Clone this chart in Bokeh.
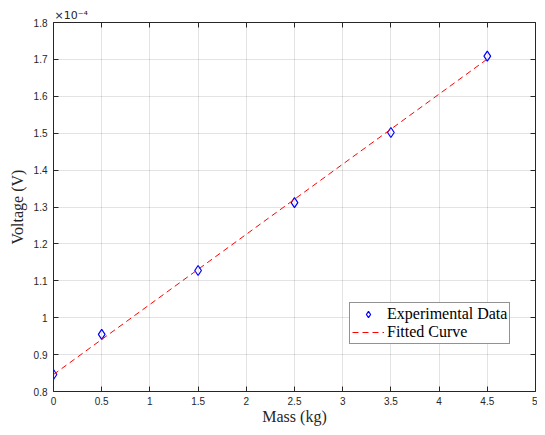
from bokeh.plotting import figure
from bokeh.models import (Range1d, FixedTicker, CustomJSTickFormatter, LinearAxis,
                          Legend, LegendItem)
from bokeh.embed import file_html
from bokeh.resources import INLINE

# ---- data (voltage in units of 1e-4 V, as on the axis) ----
mass_kg = [0.0, 0.5, 1.5, 2.5, 3.5, 4.5]
voltage_e4 = [0.846, 0.955, 1.128, 1.312, 1.502, 1.709]
fit_mass_kg = [0.0, 4.5]
fit_voltage_e4 = [0.846, 1.701]
x_ticks = [0, 0.5, 1, 1.5, 2, 2.5, 3, 3.5, 4, 4.5, 5]
y_ticks = [0.8, 0.9, 1.0, 1.1, 1.2, 1.3, 1.4, 1.5, 1.6, 1.7, 1.8]

AX = "#262626"

p = figure(width=537, height=427, x_range=Range1d(0, 5), y_range=Range1d(0.8, 1.8),
           output_backend="svg", toolbar_location=None,
           min_border_left=53, min_border_right=2, min_border_top=22, min_border_bottom=34,
           x_axis_label="Mass (kg)", y_axis_label="Voltage (V)")
p.outline_line_color = None
p.background_fill_color = "white"
p.border_fill_color = "white"

p.title.text = "×10⁻⁴"
p.title.text_font = "DejaVu Sans"
p.title.text_font_size = "11px"
p.title.text_font_style = "normal"
p.title.text_color = AX
p.title.align = "left"
p.title.offset = 1
p.title.standoff = 2

fmt = CustomJSTickFormatter(code="return (Math.round(tick*100)/100).toString();")

def style_axis(ax, ticks, show_labels=True):
    ax.ticker = FixedTicker(ticks=ticks)
    ax.axis_line_color = AX
    ax.axis_line_width = 1
    ax.major_tick_line_color = AX
    ax.major_tick_in = 5
    ax.major_tick_out = 0
    ax.minor_tick_line_color = None
    if show_labels:
        ax.formatter = fmt
        ax.major_label_text_font = "Liberation Sans"
        ax.major_label_text_font_size = "10px"
        ax.major_label_text_color = AX
        ax.major_label_standoff = 6
        ax.axis_label_text_font = "Liberation Serif"
        ax.axis_label_text_font_size = "16px"
        ax.axis_label_text_font_style = "normal"
        ax.axis_label_text_color = AX
        ax.axis_label_standoff = 3
    else:
        ax.formatter = CustomJSTickFormatter(code="return '';")
        ax.major_label_text_font_size = "0px"
        ax.major_label_standoff = 0

style_axis(p.xaxis[0], x_ticks)
style_axis(p.yaxis[0], y_ticks)
p.xaxis[0].major_label_standoff = 5
p.xaxis[0].axis_label_standoff = 0
p.yaxis[0].axis_label_standoff = 5

top = LinearAxis()
style_axis(top, x_ticks, show_labels=False)
right = LinearAxis()
style_axis(right, y_ticks, show_labels=False)
p.add_layout(top, "above")
p.add_layout(right, "right")

for g in (p.xgrid[0], p.ygrid[0]):
    g.grid_line_color = AX
    g.grid_line_alpha = 0.13
    g.grid_line_width = 1
p.xgrid[0].ticker = FixedTicker(ticks=x_ticks)
p.ygrid[0].ticker = FixedTicker(ticks=y_ticks)

r_data = p.scatter(mass_kg, voltage_e4, marker="diamond", size=10,
                   fill_color=None, line_color="#0000ff", line_width=1.2)
r_fit = p.line(fit_mass_kg, fit_voltage_e4, line_color="#ff0000", line_width=1,
               line_dash="6 4")

legend = Legend(items=[LegendItem(label="Experimental Data", renderers=[r_data]),
                       LegendItem(label="Fitted Curve", renderers=[r_fit])],
                location=(296, 47))
legend.border_line_color = AX
legend.border_line_width = 1
legend.background_fill_color = "white"
legend.background_fill_alpha = 1
legend.label_text_font = "Liberation Serif"
legend.label_text_font_size = "16px"
legend.label_text_line_height = 1.0
legend.label_text_color = "black"
legend.glyph_width = 32
legend.glyph_height = 16
legend.label_height = 16
legend.label_standoff = 3
legend.padding = 2
legend.spacing = 0
legend.margin = 0
p.add_layout(legend)

open("out.html", "w").write(file_html(p, INLINE))
